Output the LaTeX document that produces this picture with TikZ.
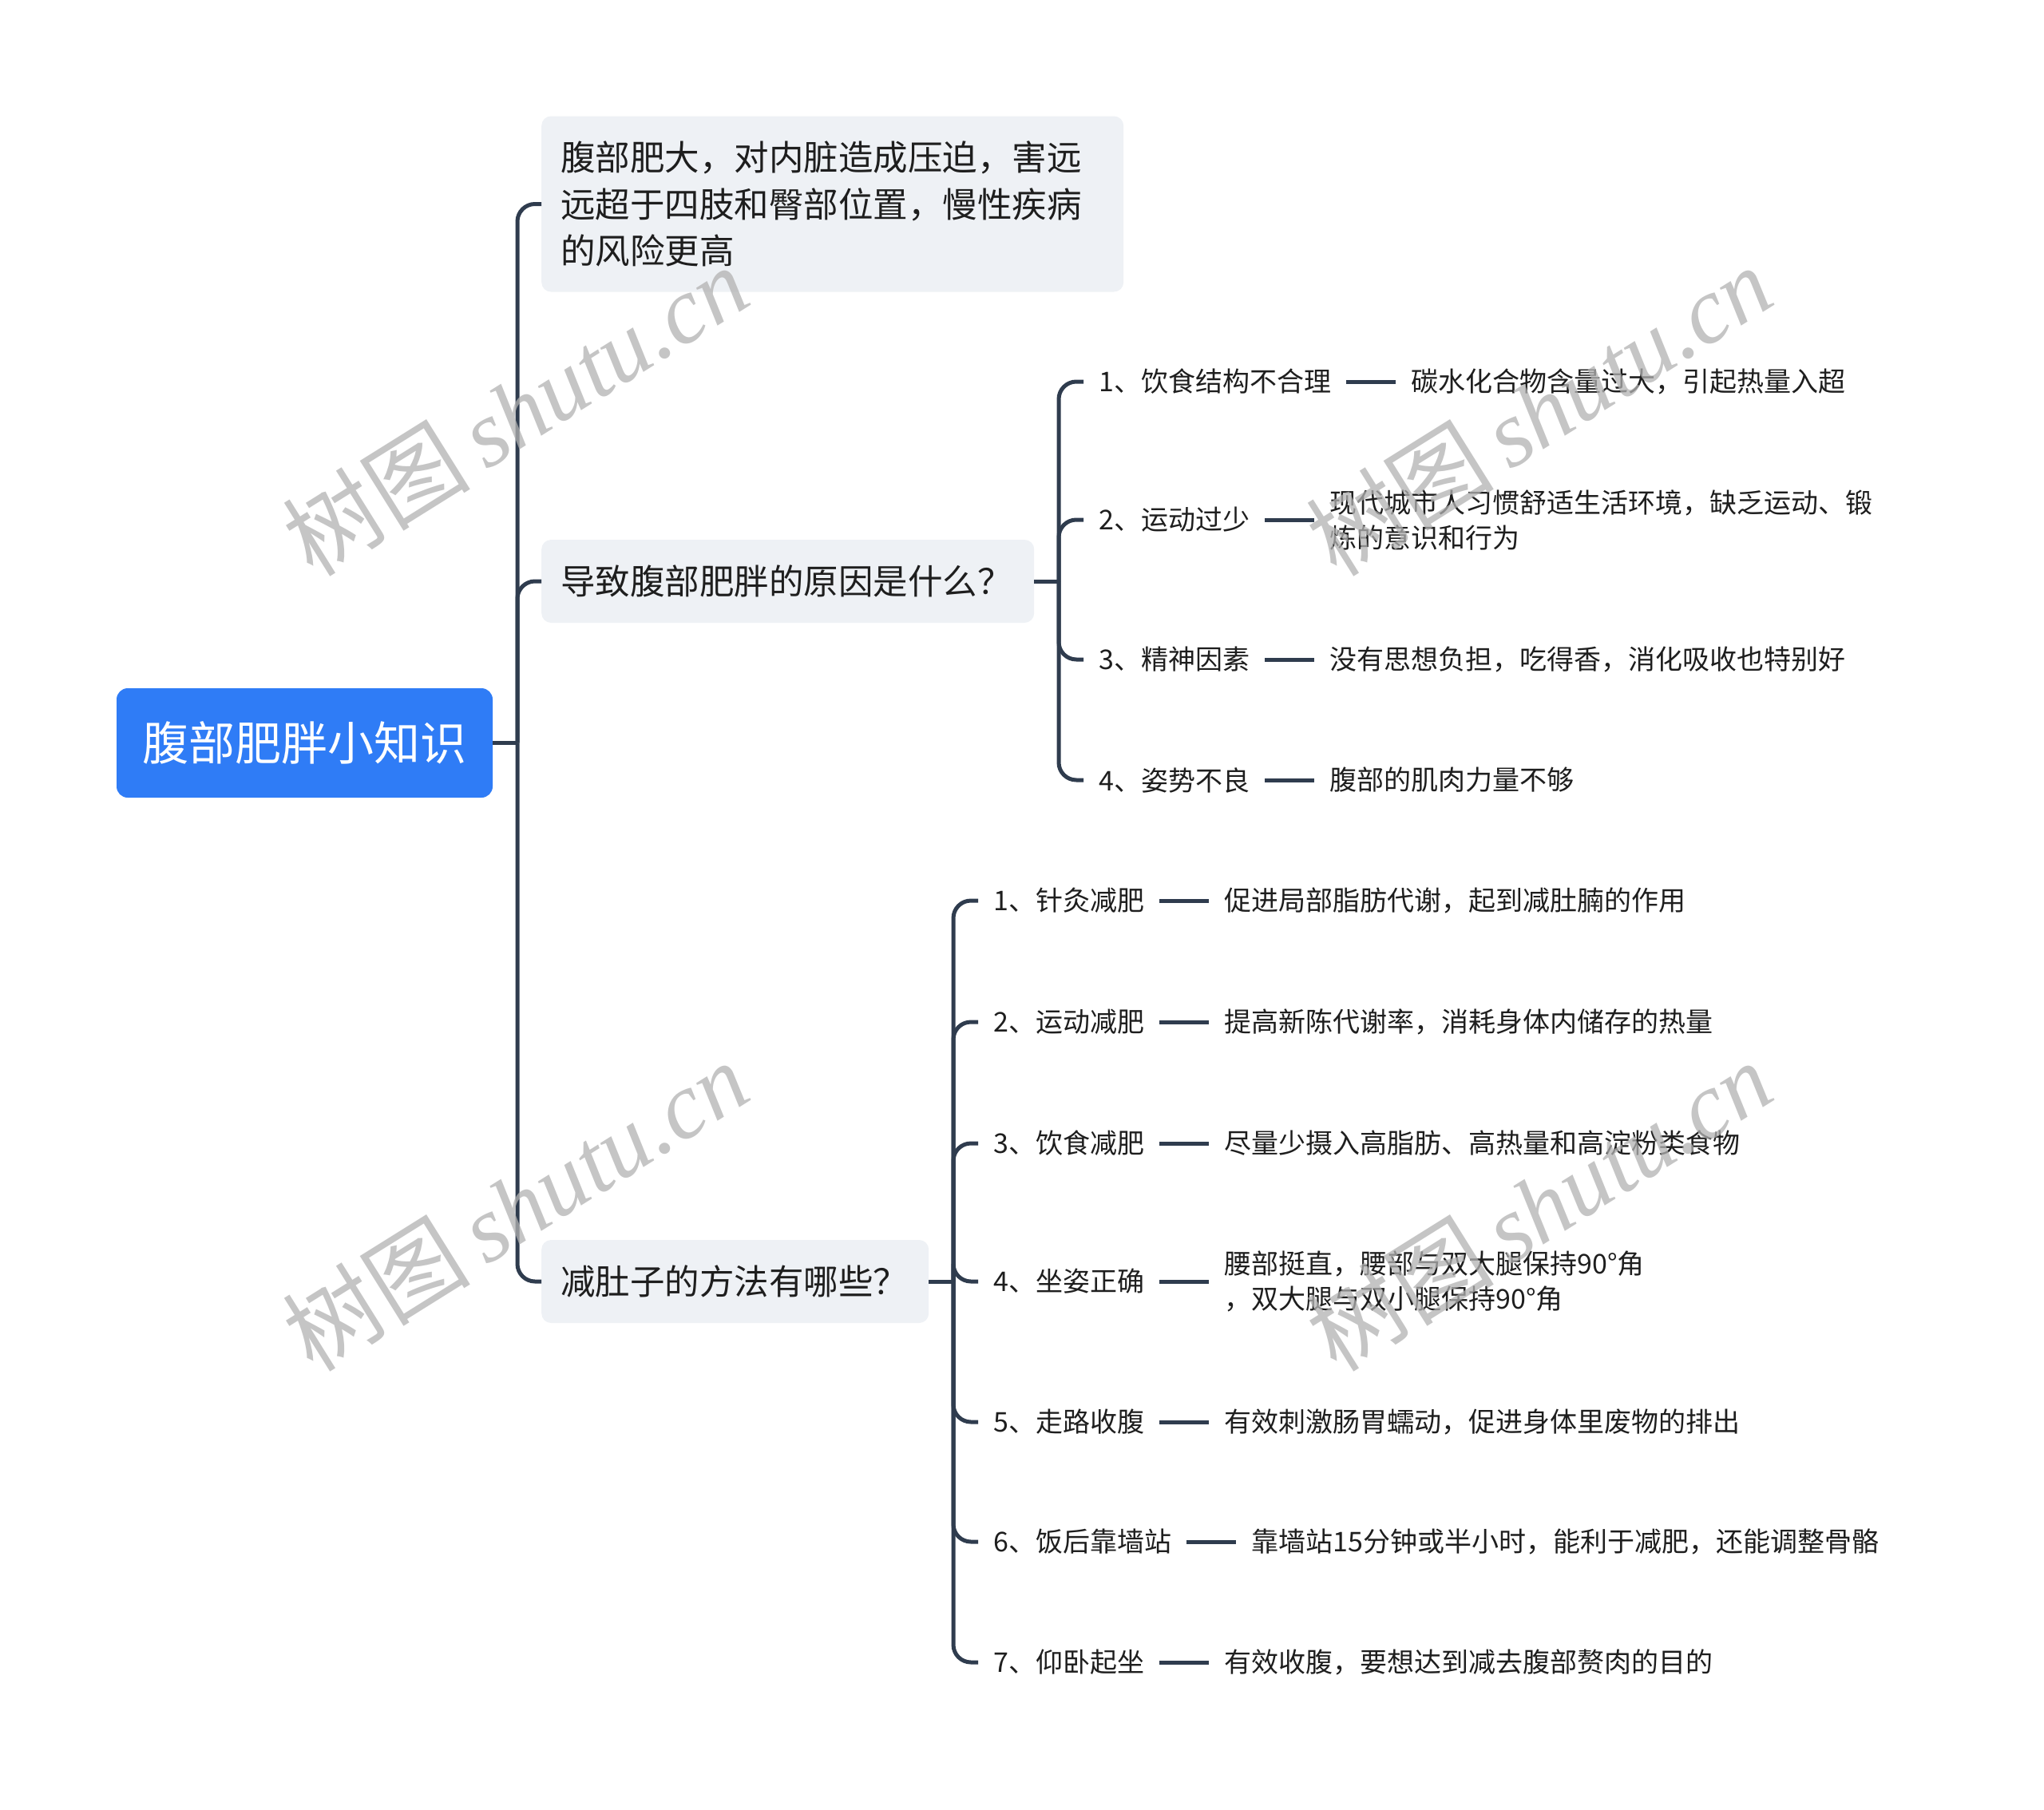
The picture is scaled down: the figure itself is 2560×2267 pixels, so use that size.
\documentclass[tikz,border=0pt]{standalone}
\usepackage{fontspec}
\setmainfont{Noto Sans CJK SC}
\newfontfamily\wmlatin{Liberation Serif}
\newfontfamily\wmcjk{Noto Sans CJK SC}
\usetikzlibrary{positioning,calc}
\definecolor{rootblue}{HTML}{2F7CF6}
\definecolor{childgray}{HTML}{EEF1F5}
\definecolor{linecol}{HTML}{2F3C4E}
\definecolor{txtcol}{HTML}{1E1E1E}
\tikzset{
  rootbox/.style={fill=rootblue, rounded corners=14pt, text=white, minimum width=471pt, minimum height=137pt, inner sep=0pt, font=\fontsize{58}{70}\selectfont},
  childbox/.style={fill=childgray, rounded corners=12pt, text=txtcol, inner xsep=24pt, inner ysep=0pt, align=left, anchor=west, font=\fontsize{43.5}{58.5}\selectfont},
  lab/.style={anchor=west, inner xsep=19pt, inner ysep=4pt, text=txtcol, font=\fontsize{34}{44}\selectfont},
  desc/.style={inner xsep=19pt, inner ysep=4pt, text=txtcol, align=left, font=\fontsize{34}{44}\selectfont},
  conn/.style={draw=linecol, line width=5pt, rounded corners=22pt},
  dashconn/.style={draw=linecol, line width=5pt},
  wm/.style={text=black!30, opacity=0.75, rotate=32, inner sep=0pt}
}
\begin{document}
\begin{tikzpicture}[x=1pt,y=-1pt]
\useasboundingbox (0,0) rectangle (2560,2267);
% root
\node[rootbox] (root) at (381.5,930.5) {腹部肥胖小知识};
% level 1
\node[childbox, text width=681pt, minimum height=220pt] (c1) at (678,255.5) {腹部肥大，对内脏造成压迫，害远\\远超于四肢和臀部位置，慢性疾病\\的风险更高};
\node[childbox, text width=569pt, minimum height=104pt] (c2) at (678,728) {导致腹部肥胖的原因是什么？};
\node[childbox, text width=437pt, minimum height=104pt] (c3) at (678,1605) {减肚子的方法有哪些？};
\coordinate (j0) at (648,930.5);
\draw[dashconn] (root.east) -- (j0);
\draw[conn] (j0) |- (c1.west);
\draw[conn] (j0) |- (c2.west);
\draw[conn] (j0) |- (c3.west);
% causes
\node[lab] (a1) at (1357,478) {1、饮食结构不合理};
\node[desc, right=62pt of a1] (b1) {碳水化合物含量过大，引起热量入超};
\node[lab] (a2) at (1357,651) {2、运动过少};
\node[desc, right=62pt of a2] (b2) {现代城市人习惯舒适生活环境，缺乏运动、锻\\炼的意识和行为};
\node[lab] (a3) at (1357,826) {3、精神因素};
\node[desc, right=62pt of a3] (b3) {没有思想负担，吃得香，消化吸收也特别好};
\node[lab] (a4) at (1357,977) {4、姿势不良};
\node[desc, right=62pt of a4] (b4) {腹部的肌肉力量不够};
\coordinate (j2) at (1326,728);
\draw[dashconn] (c2.east) -- (j2);
\foreach \i in {1,2,3,4} {
  \draw[conn] (j2) |- (a\i.west);
  \draw[dashconn] (a\i.east) -- (b\i.west);
}
% methods
\node[lab] (m1) at (1225,1128) {1、针灸减肥};
\node[desc, right=62pt of m1] (n1) {促进局部脂肪代谢，起到减肚腩的作用};
\node[lab] (m2) at (1225,1280) {2、运动减肥};
\node[desc, right=62pt of m2] (n2) {提高新陈代谢率，消耗身体内储存的热量};
\node[lab] (m3) at (1225,1432) {3、饮食减肥};
\node[desc, right=62pt of m3] (n3) {尽量少摄入高脂肪、高热量和高淀粉类食物};
\node[lab] (m4) at (1225,1605) {4、坐姿正确};
\node[desc, right=62pt of m4] (n4) {腰部挺直，腰部与双大腿保持90°角\\，双大腿与双小腿保持90°角};
\node[lab] (m5) at (1225,1781) {5、走路收腹};
\node[desc, right=62pt of m5] (n5) {有效刺激肠胃蠕动，促进身体里废物的排出};
\node[lab] (m6) at (1225,1931) {6、饭后靠墙站};
\node[desc, right=62pt of m6] (n6) {靠墙站15分钟或半小时，能利于减肥，还能调整骨骼};
\node[lab] (m7) at (1225,2082) {7、仰卧起坐};
\node[desc, right=62pt of m7] (n7) {有效收腹，要想达到减去腹部赘肉的目的};
\coordinate (j3) at (1194,1605);
\draw[dashconn] (c3.east) -- (j3);
\foreach \i in {1,...,7} {
  \draw[conn] (j3) |- (m\i.west);
  \draw[dashconn] (m\i.east) -- (n\i.west);
}
% watermarks
\foreach \p [count=\k] in {(645,514),(645,1510),(1927,514),(1927,1510)} {
  \node[wm] (wm\k) at \p {\fontsize{118}{130}\selectfont\wmcjk 树图\,\wmlatin\itshape shutu.cn};
}
\end{tikzpicture}
\end{document}
